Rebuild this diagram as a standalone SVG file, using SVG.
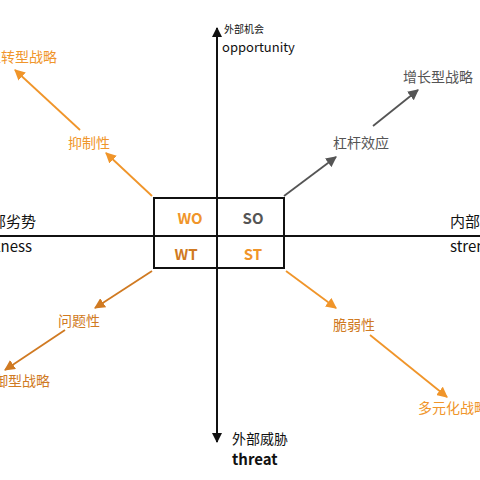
<svg xmlns="http://www.w3.org/2000/svg" width="480" height="480" viewBox="0 0 480 480">
<style>
text{font-family:"Noto Sans CJK SC","Liberation Sans",sans-serif}
.ax{stroke:#111;stroke-width:2;fill:none}
.lbl{font-size:14px}
.or{fill:#f0952a}
.dor{fill:#d07a22}
.gr{fill:#555}
.ltr{font-size:15px;font-weight:bold}
</style>
<defs>
<marker id="ao" viewBox="0 0 10 10" refX="9" refY="5" markerWidth="6" markerHeight="6" orient="auto"><path d="M0,0 L10,5 L0,10 z" fill="#f0952a"/></marker>
<marker id="ad" viewBox="0 0 10 10" refX="9" refY="5" markerWidth="6" markerHeight="6" orient="auto"><path d="M0,0 L10,5 L0,10 z" fill="#d07a22"/></marker>
<marker id="ag" viewBox="0 0 10 10" refX="9" refY="5" markerWidth="6" markerHeight="6" orient="auto"><path d="M0,0 L10,5 L0,10 z" fill="#555"/></marker>
<marker id="ak" viewBox="0 0 10 10" refX="9" refY="5" markerWidth="5" markerHeight="5" orient="auto"><path d="M0,0 L10,5 L0,10 z" fill="#111"/></marker>
</defs>
<g id="axes">
<line class="ax" x1="0" y1="236" x2="480" y2="236"/>
<line class="ax" x1="217" y1="440" x2="217" y2="28" marker-end="url(#ak)"/>
<line class="ax" x1="217" y1="236" x2="217" y2="442" marker-end="url(#ak)"/>
</g>
<g id="connectors" fill="none" stroke-width="1.8">
<line x1="284" y1="196" x2="336" y2="157" stroke="#555" marker-end="url(#ag)"/>
<line x1="373" y1="126" x2="418" y2="90" stroke="#555" marker-end="url(#ag)"/>
<line x1="152" y1="196" x2="106" y2="153" stroke="#f0952a" marker-end="url(#ao)"/>
<line x1="80" y1="130" x2="15" y2="70" stroke="#f0952a" marker-end="url(#ao)"/>
<line x1="152" y1="271" x2="95" y2="308" stroke="#d07a22" marker-end="url(#ad)"/>
<line x1="65" y1="330" x2="5" y2="370" stroke="#d07a22" marker-end="url(#ad)"/>
<line x1="286" y1="271" x2="336" y2="308" stroke="#f0952a" marker-end="url(#ao)"/>
<line x1="370" y1="335" x2="447" y2="397" stroke="#f0952a" marker-end="url(#ao)"/>
</g>
<g id="swot-box">
<rect x="154" y="198" width="130" height="70" fill="none" stroke="#111" stroke-width="2"/>
<text x="190" y="224" class="ltr or" text-anchor="middle">WO</text>
<text x="253" y="224" class="ltr gr" text-anchor="middle">SO</text>
<text x="186" y="260" class="ltr dor" text-anchor="middle">WT</text>
<text x="253" y="260" class="ltr or" text-anchor="middle">ST</text>
</g>
<g id="opportunity">
<text x="224" y="33" font-size="10" fill="#111">外部机会</text>
<text x="222" y="52" font-size="13" fill="#111">opportunity</text>
</g>
<g id="threat">
<text x="232" y="444" font-size="14" fill="#111">外部威胁</text>
<text x="232" y="465" font-size="15" font-weight="bold" fill="#111">threat</text>
</g>
<g id="weakness">
<text x="36" y="227" font-size="15" fill="#111" text-anchor="end">内部劣势</text>
<text x="32" y="252" font-size="15" fill="#111" text-anchor="end">weakness</text>
</g>
<g id="strength">
<text x="450" y="227" font-size="15" fill="#111">内部优势</text>
<text x="450" y="252" font-size="15" fill="#111">strength</text>
</g>
<g id="leverage"><text x="333" y="148" class="lbl gr">杠杆效应</text></g>
<g id="growth"><text x="403" y="82" class="lbl gr">增长型战略</text></g>
<g id="restrain"><text x="68" y="148" class="lbl or">抑制性</text></g>
<g id="turnaround"><text x="57" y="62" class="lbl or" text-anchor="end">扭转型战略</text></g>
<g id="problem"><text x="58" y="326" class="lbl dor">问题性</text></g>
<g id="defensive"><text x="50" y="386" class="lbl dor" text-anchor="end">防御型战略</text></g>
<g id="fragile"><text x="333" y="330" class="lbl dor">脆弱性</text></g>
<g id="diversify"><text x="418" y="413" class="lbl or">多元化战略</text></g>
</svg>
